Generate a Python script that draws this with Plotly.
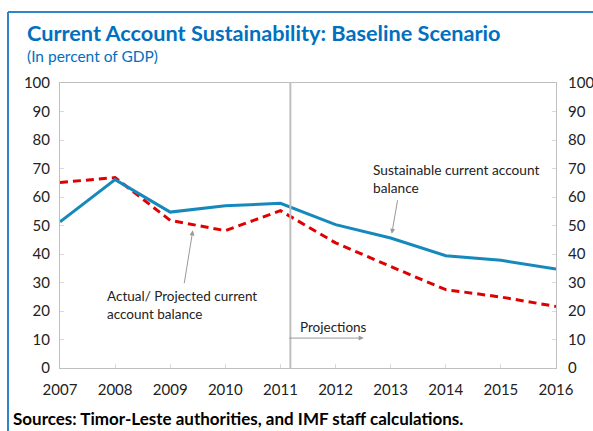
import plotly.graph_objects as go

years = [2007, 2008, 2009, 2010, 2011, 2012, 2013, 2014, 2015, 2016]
sustainable = [51.3, 66.1, 54.7, 56.9, 57.8, 50.3, 45.6, 39.4, 37.8, 34.7]
actual_projected = [65.1, 66.8, 51.8, 48.2, 55.2, 43.9, 35.6, 27.5, 24.9, 21.6]
y_ticks = [0, 10, 20, 30, 40, 50, 60, 70, 80, 90, 100]
projection_start = 2011.18

title = "Current Account Sustainability: Baseline Scenario"
subtitle = "(In percent of GDP)"
source = "Sources: Timor-Leste authorities, and IMF staff calculations."

W, H = 593, 431
L, R, T, B = 60, 37, 83, 63
PW, PH = W - L - R, H - T - B


def px(x):
    return (x - L) / PW


def py(y):
    return (H - B - y) / PH


FONT = "Lato"
BLUE = "#0070C0"
LINE_BLUE = "#1689BC"
RED = "#E00000"
GRAY = "#BFBFBF"

fig = go.Figure()
fig.add_trace(go.Scatter(x=years, y=actual_projected, mode="lines",
                         line=dict(color=RED, width=3, dash="8px,5px"),
                         hoverinfo="skip"))
fig.add_trace(go.Scatter(x=years, y=sustainable, mode="lines",
                         line=dict(color=LINE_BLUE, width=3),
                         hoverinfo="skip"))
fig.add_trace(go.Scatter(x=years, y=sustainable, mode="lines", yaxis="y2",
                         line=dict(width=0), opacity=0, hoverinfo="skip"))

fig.update_layout(
    width=W, height=H,
    margin=dict(l=L, r=R, t=T, b=B, autoexpand=False),
    paper_bgcolor="white", plot_bgcolor="white",
    showlegend=False,
    font=dict(family=FONT, size=15, color="#222222"),
    xaxis=dict(range=[2007, 2016], tickvals=years, ticks="inside", ticklen=4,
               tickcolor="#D9D9D9", showgrid=False, zeroline=False,
               showline=True, linecolor=GRAY, linewidth=1, mirror=True,
               tickfont=dict(size=15), ticklabelstandoff=8, automargin=False),
    yaxis=dict(range=[0, 100], tickvals=y_ticks, ticks="inside", ticklen=4,
               tickcolor="#D9D9D9", showgrid=False, zeroline=False,
               showline=True, linecolor=GRAY, linewidth=1, mirror=True,
               tickfont=dict(size=15), ticklabelstandoff=6, automargin=False),
    yaxis2=dict(range=[0, 100], tickvals=y_ticks, ticks="inside", ticklen=4,
                tickcolor="#D9D9D9", overlaying="y", side="right",
                showgrid=False, zeroline=False, showline=False,
                tickfont=dict(size=15), ticklabelstandoff=11, automargin=False),
)

# Frame (blue border top and left)
fig.add_shape(type="line", xref="paper", yref="paper", x0=px(8), x1=px(8),
              y0=py(12), y1=py(440), line=dict(color="#2E86C9", width=2))
fig.add_shape(type="line", xref="paper", yref="paper", x0=px(8), x1=px(600),
              y0=py(12), y1=py(12), line=dict(color="#2E86C9", width=2))

# Projection divider
fig.add_shape(type="line", xref="x", yref="y", x0=projection_start,
              x1=projection_start, y0=0, y1=100,
              line=dict(color=GRAY, width=2))

fig.add_annotation(xref="paper", yref="paper", x=px(25), y=py(33),
                   xanchor="left", yanchor="middle", showarrow=False,
                   text="<b>" + title + "</b>",
                   font=dict(family=FONT, size=21.7, color=BLUE))
fig.add_annotation(xref="paper", yref="paper", x=px(25), y=py(56),
                   xanchor="left", yanchor="middle", showarrow=False,
                   text=subtitle, font=dict(family=FONT, size=15.5, color=BLUE))
fig.add_annotation(xref="paper", yref="paper", x=px(11), y=py(418),
                   xanchor="left", yanchor="middle", showarrow=False,
                   text="<b>" + source + "</b>",
                   font=dict(family=FONT, size=17, color="black"))

# Series labels
fig.add_annotation(x=2012.65, y=66.6, xanchor="left", yanchor="middle",
                   showarrow=False, align="left",
                   text="Sustainable current account<br>balance",
                   font=dict(size=13.7, color="#222222"))
fig.add_annotation(x=2013.02, y=47.1, ax=2013.13, ay=59.4, axref="x",
                   ayref="y", text="", showarrow=True, arrowhead=2,
                   arrowsize=1, arrowwidth=1, arrowcolor="#999999")

fig.add_annotation(x=2007.82, y=22.0, xanchor="left", yanchor="middle",
                   showarrow=False, align="left",
                   text="Actual/ Projected current<br>account balance",
                   font=dict(size=13.5, color="#222222"))
fig.add_annotation(x=2009.41, y=48.3, ax=2009.25, ay=29.2, axref="x",
                   ayref="y", text="", showarrow=True, arrowhead=2,
                   arrowsize=1, arrowwidth=1, arrowcolor="#999999")

fig.add_annotation(x=2011.31, y=14.5, xanchor="left", yanchor="middle",
                   showarrow=False, text="Projections",
                   font=dict(size=13.5, color="#222222"))
fig.add_annotation(x=2012.51, y=10.5, ax=2011.13, ay=10.5, axref="x",
                   ayref="y", text="", showarrow=True, arrowhead=2,
                   arrowsize=1, arrowwidth=1, arrowcolor="#999999")

fig.write_html("out.html",
               config={"displayModeBar": False, "staticPlot": True},
               post_script="document.body.style.margin='0';"
                           "document.body.style.overflow='hidden';")
